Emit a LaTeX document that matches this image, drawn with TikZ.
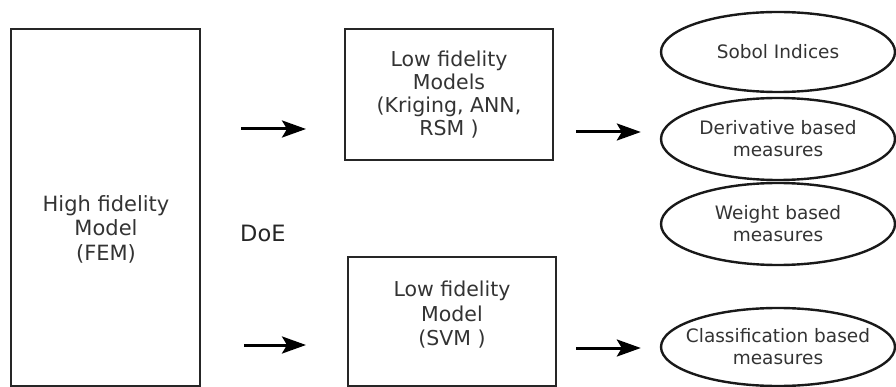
\documentclass[tikz,border=0pt]{standalone}
\usepackage{fontspec}
\setmainfont{DejaVu Sans}
\usetikzlibrary{arrows.meta,shapes.geometric}

\tikzset{
  model/.style={draw=black!85, line width=2pt, inner sep=0pt},
  measure/.style={draw=black!90, line width=2.4pt, ellipse, inner sep=0pt,
    minimum width=234pt, minimum height=82pt},
  measuretext/.style={align=center, inner sep=0pt,
    font=\fontsize{18.5}{22}\selectfont, text=black!80},
  boxtext/.style={align=center, text=black!80, inner sep=0pt},
  arr/.style={line width=3pt, -{Stealth[length=24pt,width=17pt,inset=5pt]}},
}

\begin{document}
\begin{tikzpicture}[x=1pt, y=-1pt]
  \useasboundingbox (0,0) rectangle (896,387);
  \clip (0,0) rectangle (896,387);

  % high fidelity model
  \node[model, minimum width=189pt, minimum height=357pt] (hifi) at (105.5,207.5) {};
  \node[boxtext, font=\fontsize{21}{24.5}\selectfont] (hifitext) at (106,229)
    {High fidelity\\Model\\(FEM)};

  % design of experiments
  \node[anchor=base west, inner sep=0pt, text=black!85,
        font=\fontsize{22.5}{26}\selectfont] (doe) at (240,241) {DoE};

  % low fidelity models
  \node[model, minimum width=208pt, minimum height=131pt, align=center,
        font=\fontsize{20.5}{23}\selectfont, text=black!80] (lowA) at (449,94.5)
    {Low fidelity\\Models\\(Kriging, ANN,\\RSM )};
  \node[model, minimum width=208pt, minimum height=129pt] (lowB) at (452,321.5) {};
  \node[boxtext, font=\fontsize{20.5}{24.5}\selectfont] (lowBtext) at (452,315)
    {Low fidelity\\Model\\(SVM )};

  % sensitivity measures
  \node[measure, minimum height=80pt] (sobol) at (778,52) {};
  \node[measuretext] (sobolt) at (sobol) {Sobol Indices};
  \node[measure] (deriv) at (778,139) {};
  \node[measuretext] (derivt) at (deriv) {Derivative based\\measures};
  \node[measure] (weight) at (778,224) {};
  \node[measuretext] (weightt) at (weight) {Weight based\\measures};
  \node[measure, minimum height=78pt] (classif) at (778,347) {};
  \node[measuretext] (classift) at (classif) {Classification based\\measures};

  % flow arrows
  \coordinate (rowA) at (0,129);
  \coordinate (rowB) at (0,345);
  \coordinate (rowC) at (0,132);
  \coordinate (rowD) at (0,348);
  \draw[arr] ([xshift=40pt]hifi.east |- rowA) -- ([xshift=-38pt]lowA.west |- rowA);
  \draw[arr] ([xshift=43pt]hifi.east |- rowB) -- ([xshift=-41pt]lowB.west |- rowB);
  \draw[arr] ([xshift=22pt]lowA.east |- rowC) -- ([xshift=-19pt]deriv.west |- rowC);
  \draw[arr] ([xshift=19pt]lowB.east |- rowD) -- ([xshift=-19pt]classif.west |- rowD);
\end{tikzpicture}
\end{document}
